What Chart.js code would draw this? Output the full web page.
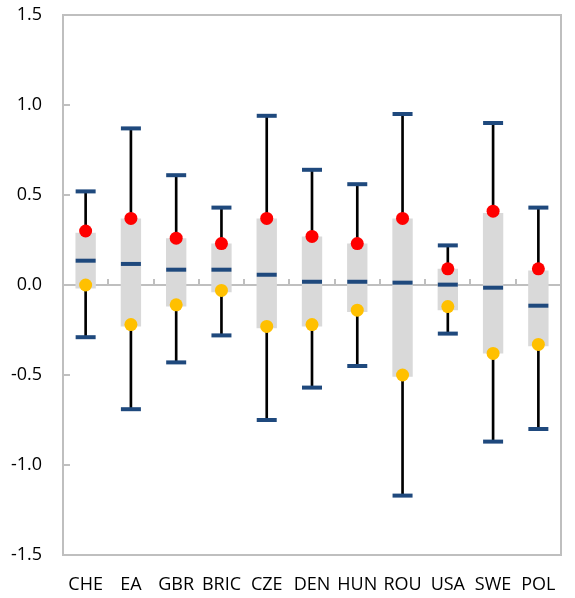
<!DOCTYPE html>
<html>
<head>
<meta charset="utf-8">
<script src="https://cdn.jsdelivr.net/npm/chart.js@4"></script>
<style>
  html, body { margin: 0; padding: 0; background: #fff; }
  #wrap { width: 575px; height: 598px; }
</style>
</head>
<body>
<div id="wrap"><canvas id="chart"></canvas></div>
<script>
const labels = ["CHE", "EA", "GBR", "BRIC", "CZE", "DEN", "HUN", "ROU", "USA", "SWE", "POL"];
const whiskerHigh = [0.52, 0.87, 0.61, 0.43, 0.94, 0.64, 0.56, 0.95, 0.22, 0.9, 0.43];
const whiskerLow = [-0.29, -0.69, -0.43, -0.28, -0.75, -0.57, -0.45, -1.17, -0.27, -0.87, -0.8];
const boxHigh = [0.29, 0.37, 0.26, 0.23, 0.37, 0.27, 0.23, 0.37, 0.09, 0.4, 0.08];
const boxLow = [-0.02, -0.23, -0.12, -0.04, -0.24, -0.23, -0.15, -0.51, -0.14, -0.38, -0.34];
const median = [0.135, 0.117, 0.085, 0.085, 0.057, 0.018, 0.018, 0.013, 0.002, -0.015, -0.115];
const redDots = [0.3, 0.37, 0.26, 0.23, 0.37, 0.27, 0.23, 0.37, 0.09, 0.41, 0.09];
const orangeDots = [0.0, -0.22, -0.11, -0.03, -0.23, -0.22, -0.14, -0.5, -0.12, -0.38, -0.33];

const FRAME = "#bfbfbf";
const DARK_BLUE = "#1f497d";
const FONT = { family: "'Open Sans', sans-serif", size: 18 };

// plot frame round the chart area
const framePlugin = {
  id: "frame",
  afterDraw(chart) {
    const { ctx, chartArea: a } = chart;
    ctx.save();
    ctx.strokeStyle = FRAME;
    ctx.lineWidth = 2;
    ctx.strokeRect(a.left, a.top, a.right - a.left, a.bottom - a.top);
    ctx.restore();
  },
};

function capSet(values, order) {
  return {
    type: "line",
    data: values,
    showLine: false,
    pointStyle: "line",
    pointRadius: 10,
    pointBorderWidth: 4,
    pointBorderColor: DARK_BLUE,
    borderColor: DARK_BLUE,
    order: order,
  };
}

function dotSet(values, color) {
  return {
    type: "line",
    data: values,
    showLine: false,
    pointStyle: "circle",
    pointRadius: 6.5,
    pointBorderWidth: 0,
    pointBackgroundColor: color,
    borderColor: color,
    order: 1,
  };
}

new Chart(document.getElementById("chart"), {
  type: "bar",
  data: {
    labels: labels,
    datasets: [
      {
        data: labels.map((_, i) => [whiskerLow[i], whiskerHigh[i]]),
        backgroundColor: "#000",
        barThickness: 2,
        grouped: false,
        order: 5,
      },
      {
        data: labels.map((_, i) => [boxLow[i], boxHigh[i]]),
        backgroundColor: "#d9d9d9",
        barPercentage: 0.45,
        categoryPercentage: 1,
        grouped: false,
        order: 4,
      },
      capSet(whiskerHigh, 3),
      capSet(whiskerLow, 3),
      capSet(median, 3),
      dotSet(redDots, "#ff0000"),
      dotSet(orangeDots, "#ffc000"),
    ],
  },
  options: {
    responsive: true,
    maintainAspectRatio: false,
    animation: false,
    layout: { padding: { top: 15, right: 4, left: 0, bottom: 0 } },
    plugins: {
      legend: { display: false },
      tooltip: { enabled: false },
    },
    scales: {
      x: {
        offset: true,
        grid: { display: false },
        border: { display: false },
        ticks: { color: "#000", font: FONT, padding: 11, maxRotation: 0, autoSkip: false },
        afterFit: (scale) => {
          scale.height = 43;
          scale.paddingLeft = 0;
          scale.paddingRight = 0;
        },
      },
      // axis line through zero, tick marks pointing up
      x0: {
        type: "category",
        labels: labels,
        position: { y: 0 },
        offset: true,
        grid: { offset: true, drawOnChartArea: false, color: FRAME, tickColor: FRAME, tickWidth: 2, lineWidth: 2, tickLength: -7 },
        border: { color: FRAME, width: 2 },
        ticks: { display: false },
        afterFit: (scale) => {
          scale.height = 0;
          scale.paddingLeft = 0;
          scale.paddingRight = 0;
        },
      },
      y: {
        min: -1.5,
        max: 1.5,
        ticks: {
          stepSize: 0.5,
          color: "#000",
          font: FONT,
          padding: 28,
          callback: (v) => v.toFixed(1),
        },
        grid: { drawOnChartArea: false, color: FRAME, tickColor: FRAME, tickWidth: 2, lineWidth: 2, tickLength: -7 },
        border: { color: FRAME, width: 2 },
        afterFit: (scale) => {
          scale.width = 63;
          scale.paddingTop = 0;
          scale.paddingBottom = 0;
        },
      },
    },
  },
  plugins: [framePlugin],
});
</script>
</body>
</html>
